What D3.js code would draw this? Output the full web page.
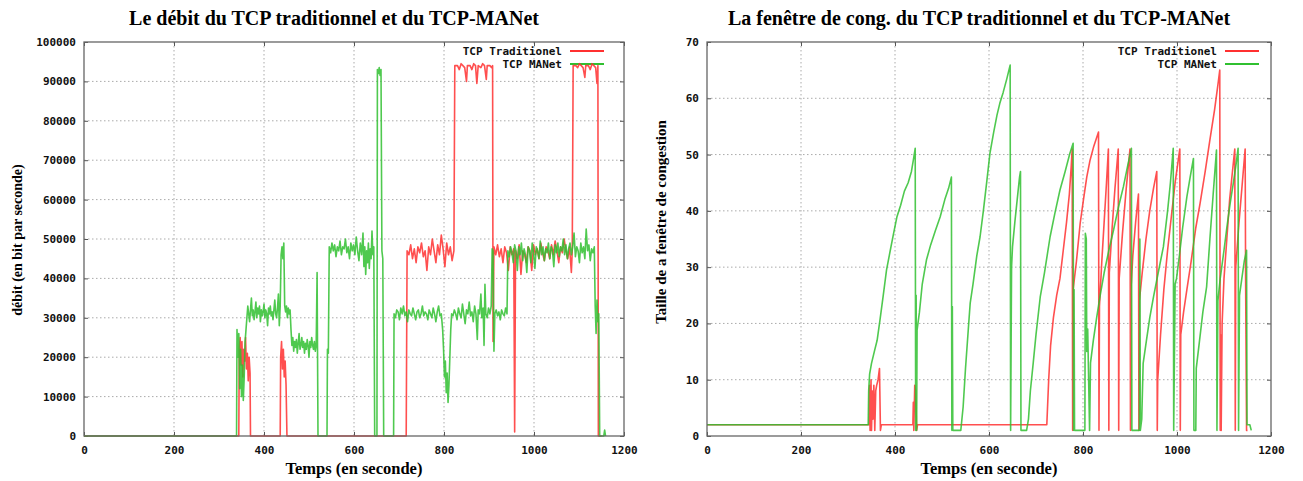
<!DOCTYPE html>
<html><head><meta charset="utf-8">
<script src="https://cdn.jsdelivr.net/npm/d3@7"></script>
<style>
body{margin:0;background:#fff;}
.tick text{font-family:"DejaVu Sans Mono",monospace;font-weight:bold;font-size:11px;fill:#111;}
</style></head><body>
<script>
// ---------- DATA ----------
const xTicks = [0,200,400,600,800,1000,1200];
const yTicksThr = [0,10000,20000,30000,40000,50000,60000,70000,80000,90000,100000];
const yTicksCwnd = [0,10,20,30,40,50,60,70];
const seriesNames = ["TCP Traditionel","TCP MANet"];
const titles = ["Le débit du TCP traditionnel et du TCP-MANet","La fenêtre de cong. du TCP traditionnel et du TCP-MANet"];
const xTitle = "Temps (en seconde)";
const yTitles = ["débit (en bit par seconde)","Taille de a fenêtre de congestion"];

// Throughput, TCP traditionnel [time, bit/s]
const thrTrad = [[0,0],[344,0],[345,22000],[347,25000],[349,18000],[351,24000],[353,15000],[355,22000],[357,19000],[359,25000],[361,17000],[363,21000],[365,14000],[367,20000],[369,16000],[370,0],
[436,0],[437,20000],[439,24000],[441,17000],[443,22000],[445,15000],[447,19000],[449,13000],[451,0],
[716,0],[718,47000],[722,46000],[726,48500],[730,45000],[734,47500],[738,44000],[742,48000],[746,46500],[750,49000],[754,45500],[758,47000],[762,42000],[766,48000],[770,46000],[774,50000],[778,47000],[782,44000],[786,48500],[790,46000],[794,51000],[798,47500],[802,43000],[806,49000],[810,46000],[814,48000],[818,44500],[822,47000],
[824,94000],[830,94000],[834,93000],[838,94500],[842,94000],[846,93500],[850,90000],[852,94000],[858,94000],[862,93000],[866,94500],[870,94000],[873,89500],[876,94000],[882,93500],[886,94500],[890,94000],[894,90500],[896,94000],[902,94000],[906,93500],[908,94000],
[909,24000],[911,48000],[915,46000],[919,48500],[923,45500],[927,47500],[931,44000],[935,48000],[939,46500],[943,42000],[947,48000],[951,46000],[955,47500],[957,1000],[959,47000],[963,45000],[967,48500],[971,41000],[975,47000],[979,46000],[983,44000],[987,48000],[991,47000],[995,42000],[999,48500],[1003,46000],[1007,47500],[1011,45000],[1015,49000],[1019,46500],[1023,44500],[1027,48000],[1031,47000],[1035,45000],[1039,48500],[1043,46000],[1047,49500],[1051,47000],[1055,44000],[1059,48000],[1063,46500],[1067,50000],[1071,47000],[1075,45000],[1079,48000],[1083,41500],[1085,47000],
[1087,94000],[1093,94000],[1097,93500],[1101,94500],[1105,94000],[1109,93500],[1113,91000],[1115,94000],[1121,94000],[1125,93000],[1129,94500],[1133,94000],[1137,93500],[1140,89500],[1142,94000],[1143,0],[1150,0]];

// Throughput, TCP-MANet
const thrManet = [[0,0],[339,0],[340,27000],[342,20000],[344,26000],[346,12000],[348,22000],[350,10000],[352,18000],[354,9000],[356,15000],[358,24000],[360,27000],[362,30000],[364,33000],[366,31000],[368,29000],[370,32000],[372,35000],[374,30500],[376,32000],[378,29500],[380,31500],[382,34000],[384,30000],[386,32500],[388,31000],[390,33000],[392,29000],[394,32000],[396,30500],[398,31500],[400,33500],[402,30000],[404,32000],[406,31000],[408,28000],[410,32500],[412,31000],[414,33000],[416,30500],[418,31500],[420,29500],[422,32000],[424,34500],[426,31000],[428,30000],[430,32500],[432,36000],[434,28000],[436,33000],[438,46000],[440,48000],[442,45000],[444,49000],[446,33000],[448,31500],[450,33000],[452,30000],[454,32500],[456,31000],[458,32000],[460,27000],[462,23000],[464,25000],[466,21500],[468,24000],[470,22500],[472,24500],[474,21000],[476,23500],[478,26000],[480,22000],[482,23000],[484,25000],[486,22500],[488,24000],[490,21000],[492,23500],[494,22000],[496,24500],[498,23000],[500,20000],[502,24000],[504,22500],[506,25000],[508,23000],[510,22000],[512,24000],[514,21500],[516,23000],[518,41500],[520,0],
[540,0],[541,22000],[543,21000],[545,48000],[548,46500],[551,49000],[554,47000],[557,48500],[560,45500],[563,48000],[566,47000],[569,49500],[572,46000],[575,48000],[578,47500],[581,50000],[584,46500],[587,48000],[590,45000],[593,49000],[596,47000],[599,48500],[602,46000],[605,50500],[608,47000],[611,44500],[614,49000],[617,46000],[620,51500],[622,43000],[624,48000],[626,41000],[628,47000],[630,44000],[632,49000],[634,42500],[636,47500],[638,45000],[640,52000],[642,46000],[644,48000],[646,0],
[651,0],[652,93000],[654,92000],[656,93500],[658,91500],[660,93000],[662,47000],[664,45000],[666,0],
[688,0],[689,31000],[692,30000],[695,32000],[698,31500],[701,29500],[704,32500],[707,31000],[710,33000],[713,30500],[716,31500],[719,29000],[722,32000],[725,31000],[728,30500],[731,32500],[734,31000],[737,29500],[740,31500],[743,32000],[746,30000],[749,31000],[752,33000],[755,30500],[758,31500],[761,31000],[764,29500],[767,32000],[770,31000],[773,30000],[776,32500],[779,31000],[782,29000],[785,31500],[788,33000],[791,30500],[794,31000],[797,27000],[799,22000],[801,15000],[803,19000],[805,11000],[807,16000],[809,8500],[811,13000],[813,20000],[815,27000],[817,31000],[820,30500],[823,32000],[826,31000],[829,29500],[832,32500],[835,31000],[838,30000],[841,33500],[844,31000],[847,28500],[850,32000],[853,31000],[856,34000],[859,30500],[862,31500],[865,29000],[868,33000],[871,31000],[874,24500],[876,32000],[879,31000],[882,36000],[884,30000],[887,32500],[889,23000],[891,38500],[893,31000],[896,30000],[899,32500],[902,31000],[905,33000],[907,47500],[909,47000],[911,21500],[913,31000],[916,32000],[919,30500],[922,31500],[925,29500],[928,32000],[931,31000],[934,30500],[937,32500],[940,31000],
[942,47000],[945,45500],[948,48000],[951,46500],[954,44000],[957,48500],[960,47000],[963,42000],[966,48000],[969,46000],[972,49000],[975,44500],[978,47500],[981,46000],[984,41500],[987,48000],[990,47000],[993,44000],[996,49000],[999,46500],[1002,42500],[1005,48000],[1008,47000],[1011,45000],[1014,49500],[1017,46000],[1020,48000],[1023,44500],[1026,47500],[1029,46500],[1032,49000],[1035,45000],[1038,48000],[1041,47000],[1044,43000],[1047,48500],[1050,46500],[1053,49000],[1056,45500],[1059,48000],[1062,47000],[1065,50000],[1068,46000],[1071,48500],[1074,45000],[1077,47500],[1080,49000],[1083,46000],[1086,48000],[1089,51500],[1092,45500],[1095,48000],[1098,47000],[1101,44000],[1104,49000],[1107,46500],[1110,48000],[1113,45000],[1116,52500],[1119,47000],[1122,48500],[1125,44500],[1128,47500],[1131,46500],[1134,48000],[1136,33000],[1138,26000],[1140,34500],[1142,29000],[1144,31000],[1146,0],[1155,0],[1157,1500],[1159,0]];

// Congestion window, TCP traditionnel
const cwndTrad = [[0,2],[345,2],[346,9],[347,1],[349,10],[350,1],[352,8],[353,3],[355,9],[357,1],[359,8],[361,9],[364,10],[367,12],[369,1],[371,2],[438,2],[439,6],[440,1],[442,9],[444,8],[446,1],[448,2],
[723,2],[727,10],[731,16],[737,21],[744,25],[751,28],[758,33],[765,38],[771,43],[775,48],[777,51],[778,1],[779,26],[786,31],[794,37.8],[801,42],[808,46],[815,49],[823,51.5],[833,54],[834,1],[835,23],[840,31],[845,38],[850,45],[854,51],[855,1],[856,29],[862,37],[868,44],[875,51],[876,1],[877,28],[884,36],[892,44],[900,51],[901,1],[902,26],[906,32],[912,38],[918,43],[919,1],[920,24],[926,29],[934,35],[942,40],[950,44],[957,47],[958,1],[959,10],[965,18],[972,26],[980,33],[988,39],[996,45],[1006,51],[1007,1],[1008,18],[1014,22],[1021,26],[1030,31],[1040,37],[1049,41.3],[1060,47],[1070,52.6],[1080,58],[1088,63],[1091,65],[1092,1],[1093,18],[1094,1],[1096,20],[1100,28],[1106,35],[1112,42],[1118,47],[1123,51],[1124,1],[1125,30],[1132,38],[1139,45],[1145,51],[1146,28],[1148,1],[1150,1]];

// Congestion window, TCP-MANet
const cwndManet = [[0,2],[343,2],[344,8],[346,11],[350,12.9],[356,15],[362,17],[368,20.6],[375,25],[382,29.5],[390,33],[397,36],[404,38.9],[412,41],[420,43.5],[428,45],[435,47],[440,49.5],[443,51.1],[444,1],[445,25],[446,1],[447,18.8],[452,22],[458,27],[467,31.3],[476,34],[486,36.5],[496,38.9],[506,42],[514,44],[520,46],[521,1],[522,23],[523,1],[540,1],[545,5.2],[550,12],[556,19],[560,23.6],[566,27],[574,32],[581,35.4],[588,40],[595,45],[602,50.2],[610,54],[617,57],[623,59.1],[630,61],[638,63.5],[645,65.9],[646,1],[648,30],[650,33.6],[655,38],[660,42],[665,46],[667,47],[668,1],[680,1],[684,3],[688,8],[694,12.9],[700,18],[709,24.7],[718,29],[730,35.4],[740,39.5],[751,43.7],[762,47],[772,50.2],[779,52],[780,1],[781,26],[782,1],[804,1],[805,36],[807,35],[808,15],[810,19],[812,10],[814,1],[816,13],[822,17],[829,21],[836,24.7],[845,29],[855,33],[865,36.6],[875,40.5],[886,44.3],[895,48],[903,51.1],[904,1],[920,1],[921,35],[922,1],[925,3],[928,12.9],[935,17],[942,21],[950,24.7],[960,29],[971,33.6],[980,40],[986,45],[992,51.1],[993,1],[996,27],[999,28],[1005,32],[1012,37],[1021,42.5],[1028,46],[1035,49.3],[1036,1],[1040,1],[1041,12],[1048,17],[1055,22],[1063,26.5],[1070,35],[1077,43],[1084,50.8],[1085,1],[1087,24],[1092,28],[1100,33],[1106,37],[1113,41.3],[1120,45],[1126,48.5],[1130,51.1],[1131,1],[1133,25],[1138,28],[1143,31],[1148,33],[1149,2],[1155,2],[1158,1]];

// ---------- DRAW ----------
const W = 1303, H = 481;
const colors = ["#ff3030", "#30c030"];
const svg = d3.select("body").append("svg").attr("width", W).attr("height", H);

function panel(o) {
  const top = 42, bottom = 436;
  const x = d3.scaleLinear().domain([0, 1200]).range([o.x0, o.x1]);
  const y = d3.scaleLinear().domain([0, o.ymax]).range([bottom, top]);
  const g = svg.append("g");
  const fmt = d3.format("d");

  // grid
  const grid = g.append("g").attr("stroke", "#aaa").attr("stroke-width", 1).attr("stroke-dasharray", "1.5,2.5");
  grid.selectAll(".gx").data(o.xTicks.slice(1, -1)).enter().append("line")
    .attr("x1", d => x(d)).attr("x2", d => x(d)).attr("y1", top).attr("y2", bottom);
  grid.selectAll(".gy").data(o.yTicks.slice(1, -1)).enter().append("line")
    .attr("y1", d => y(d)).attr("y2", d => y(d)).attr("x1", o.x0).attr("x2", o.x1);

  // axes (inward ticks, mirrored)
  const ax = (gen, tr) => {
    const a = g.append("g").attr("transform", tr).call(gen);
    a.select(".domain").remove();
    a.selectAll(".tick line").attr("stroke", "#555");
    return a;
  };
  ax(d3.axisBottom(x).tickValues(o.xTicks).tickFormat(fmt).tickSize(-4).tickPadding(10), `translate(0,${bottom})`);
  ax(d3.axisTop(x).tickValues(o.xTicks).tickSize(-4).tickFormat(""), `translate(0,${top})`);
  ax(d3.axisLeft(y).tickValues(o.yTicks).tickFormat(fmt).tickSize(-4).tickPadding(8), `translate(${o.x0},0)`);
  ax(d3.axisRight(y).tickValues(o.yTicks).tickSize(-4).tickFormat(""), `translate(${o.x1},0)`);

  // legend samples (drawn under the data, as in the reference)
  seriesNames.forEach((n, i) => {
    const ly = 51 + i * 13;
    g.append("text").attr("x", o.legX).attr("y", ly + 4).attr("text-anchor", "end")
      .style("font-family", "DejaVu Sans Mono, monospace").style("font-weight", "bold").style("font-size", "11px")
      .attr("fill", "#111").text(n);
    g.append("line").attr("x1", o.legX + 8).attr("x2", o.legX + 42).attr("y1", ly).attr("y2", ly)
      .attr("stroke", colors[i]).attr("stroke-width", 1.8);
  });

  // series
  const line = d3.line().x(d => x(d[0])).y(d => y(d[1]));
  o.series.forEach((s, i) => {
    g.append("path").datum(s).attr("d", line).attr("fill", "none")
      .attr("stroke", colors[i]).attr("stroke-width", 1.6).attr("stroke-linejoin", "round").attr("opacity", 0.85);
  });

  // frame
  g.append("rect").attr("x", o.x0).attr("y", top).attr("width", o.x1 - o.x0).attr("height", bottom - top)
    .attr("fill", "none").attr("stroke", "#666").attr("stroke-width", 1.3);

  // titles
  const serif = "Liberation Serif, Times New Roman, serif";
  g.append("text").attr("x", o.titleX).attr("y", 25).attr("text-anchor", "middle")
    .style("font-family", serif).style("font-weight", "bold").style("font-size", "20px").text(o.title);
  g.append("text").attr("x", (o.x0 + o.x1) / 2).attr("y", 474).attr("text-anchor", "middle")
    .style("font-family", serif).style("font-weight", "bold").style("font-size", "16.5px").text(xTitle);
  g.append("text").attr("transform", `translate(${o.yTitleX},${o.yTitleY}) rotate(-90)`).attr("text-anchor", "middle")
    .style("font-family", serif).style("font-weight", "bold").style("font-size", o.yTitleSize).text(o.yTitle);
}

panel({x0: 84, x1: 624, ymax: 100000, xTicks: xTicks, yTicks: yTicksThr, series: [thrTrad, thrManet],
  legX: 562, title: titles[0], titleX: 334, yTitle: yTitles[0], yTitleX: 22, yTitleY: 240, yTitleSize: "14px"});
panel({x0: 707, x1: 1271, ymax: 70, xTicks: xTicks, yTicks: yTicksCwnd, series: [cwndTrad, cwndManet],
  legX: 1217, title: titles[1], titleX: 979, yTitle: yTitles[1], yTitleX: 666, yTitleY: 222, yTitleSize: "15px"});
</script></body></html>
